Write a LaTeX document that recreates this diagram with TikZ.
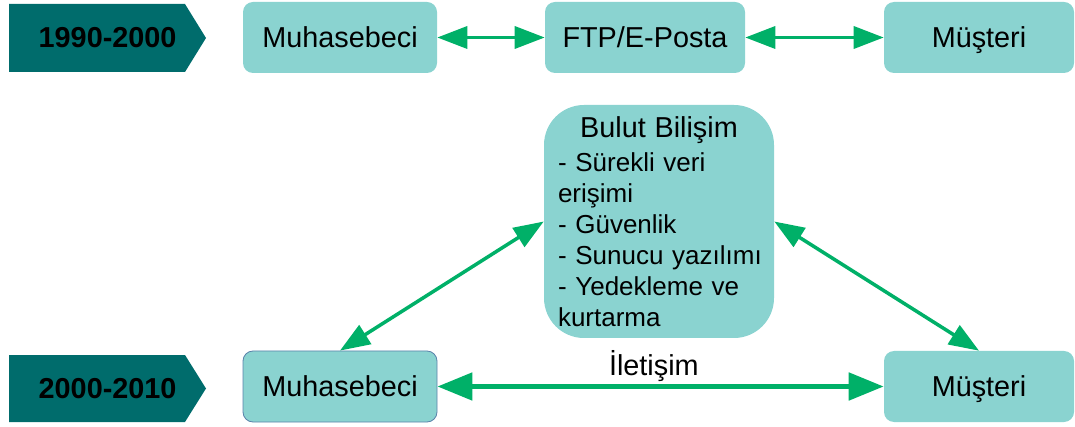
\documentclass[tikz,border=0pt]{standalone}
\usepackage{fontspec}
\setmainfont{Liberation Sans}
\usetikzlibrary{arrows.meta}
\definecolor{acikturkuaz}{RGB}{138,211,208}
\definecolor{koyuturkuaz}{RGB}{0,108,108}
\definecolor{okyesili}{RGB}{0,176,104}
\definecolor{kenarmavi}{RGB}{90,130,170}
\tikzset{
    kutu/.style = {fill=acikturkuaz, rounded corners=0.25cm, minimum height=1.775cm, inner sep=0pt, font=\fontsize{20.5}{24}\selectfont},
    kutuyazi/.style = {kutu, text height=14.5pt, text depth=0.5pt},
    donemyazi/.style = {font=\fontsize{20.5}{24}\selectfont\bfseries},
    ok/.style = {draw=okyesili, line width=2.5pt, {Triangle[length=0.75cm,width=0.55cm]}-{Triangle[length=0.75cm,width=0.55cm]}},
    kalinok/.style = {draw=okyesili, line width=3.6pt, {Triangle[length=0.875cm,width=0.675cm]}-{Triangle[length=0.875cm,width=0.675cm]}}
}
\begin{document}
\begin{tikzpicture}[color = {black}]
    \useasboundingbox (0,0) rectangle (26.875,10.65);
    \fill[koyuturkuaz] (0.225,8.85) -- (4.625,8.85) -- (5.15,9.7) -- (4.625,10.55) -- (0.225,10.55) -- cycle;
    \node[donemyazi] (donem1) at (2.69,9.7) {1990-2000};
    \fill[koyuturkuaz] (0.225,0.1) -- (4.625,0.1) -- (5.15,0.9375) -- (4.625,1.775) -- (0.225,1.775) -- cycle;
    \node[donemyazi] (donem2) at (2.69,0.9375) {2000-2010};
    \node[kutuyazi, minimum width=4.85cm] (muhasebeci1) at (8.5,9.7125) {Muhasebeci};
    \node[kutuyazi, minimum width=5cm] (ftp) at (16.125,9.7125) {FTP/E-Posta};
    \node[kutuyazi, minimum width=4.75cm] (musteri1) at (24.475,9.7125) {Müşteri};
    \node[kutu, minimum width=5.75cm, minimum height=5.825cm, rounded corners=1cm, text width=5.05cm, align=left, font=\fontsize{18.5}{22}\selectfont] (bulut) at (16.475,5.1125) {\makebox[5.05cm]{\fontsize{20.5}{24}\selectfont Bulut Bilişim}\\[2pt]
        - Sürekli veri\\ erişimi\\ - Güvenlik\\ \mbox{- Sunucu yazılımı}\\ - Yedekleme ve\\ kurtarma};
    \node[kutuyazi, minimum width=4.85cm, draw=kenarmavi, line width=0.6pt] (muhasebeci2) at (8.5,0.9875) {Muhasebeci};
    \node[kutuyazi, minimum width=4.75cm] (musteri2) at (24.475,0.9875) {Müşteri};
    \draw[ok] (muhasebeci1) -- (ftp);
    \draw[ok] (ftp) -- (musteri1);
    \draw[ok] (bulut.west) -- (muhasebeci2.north);
    \draw[ok] (bulut.east) -- (musteri2.north);
    \draw[kalinok] (muhasebeci2) -- node[pos=0.485, above, inner sep=2pt, font=\fontsize{20.5}{24}\selectfont] (iletisim) {İletişim} (musteri2);
\end{tikzpicture}
\end{document}
